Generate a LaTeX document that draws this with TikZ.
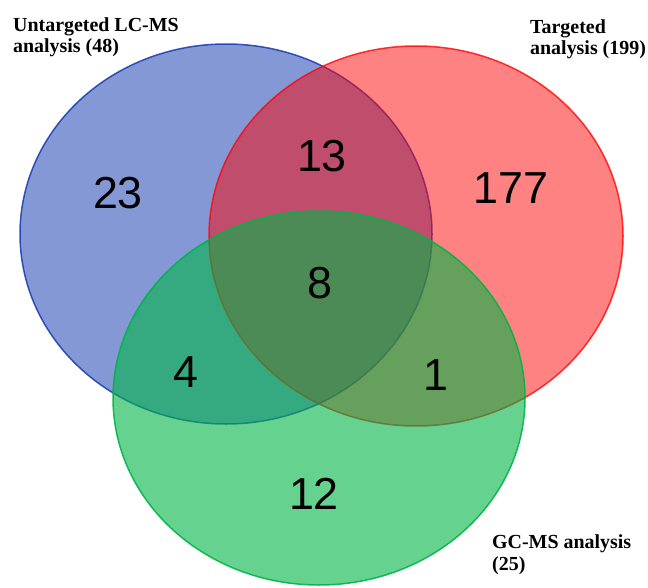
\documentclass[tikz,border=0pt]{standalone}
\usepackage{fontspec}
\setmainfont{Liberation Serif}
\newfontfamily\vennnum{Liberation Sans}
\usetikzlibrary{positioning}
\definecolor{lcblue}{RGB}{11,49,173}
\definecolor{tgred}{RGB}{255,5,5}
\definecolor{gcgreen}{RGB}{0,180,70}
\tikzset{
  setarea/.style={fill=#1,fill opacity=0.5,draw=#1,draw opacity=0.8,line width=1.5bp},
  count/.style={font=\vennnum\fontsize{45}{50}\selectfont,inner sep=0pt},
  setlabel/.style={font=\fontsize{20}{21.5}\selectfont\bfseries,align=left,anchor=base west,inner sep=0pt}
}

\begin{document}
\begin{tikzpicture}[x=1bp,y=-1bp]
  \useasboundingbox (0,0) rectangle (648,588);
  % the three sets
  \filldraw[setarea=lcblue] (226,234) ellipse (206 and 190);
  \filldraw[setarea=tgred] (416,236) ellipse (207 and 190);
  \filldraw[setarea=gcgreen,fill opacity=0.6,draw opacity=0.9] (319,398) ellipse (206 and 187);
  % counts
  \node[count] (onlylc) at (118,193) {23};
  \node[count] (lct) at (322,156) {13};
  \node[count] (onlyt) at (511,188) {177};
  \node[count] (all) at (320,283) {8};
  \node[count] (lcgc) at (186,372) {4};
  \node[count] (tgc) at (436,375) {1};
  \node[count] (onlygc) at (314,494) {12};
  % set names (anchored on the last line)
  \node[setlabel] (lclabel) at (13,53) {Untargeted LC-MS\\analysis (48)};
  \node[setlabel] (tlabel) at (530,55) {Targeted\\analysis (199)};
  \node[setlabel] (gclabel) at (492,570) {GC-MS analysis\\(25)};
\end{tikzpicture}
\end{document}
